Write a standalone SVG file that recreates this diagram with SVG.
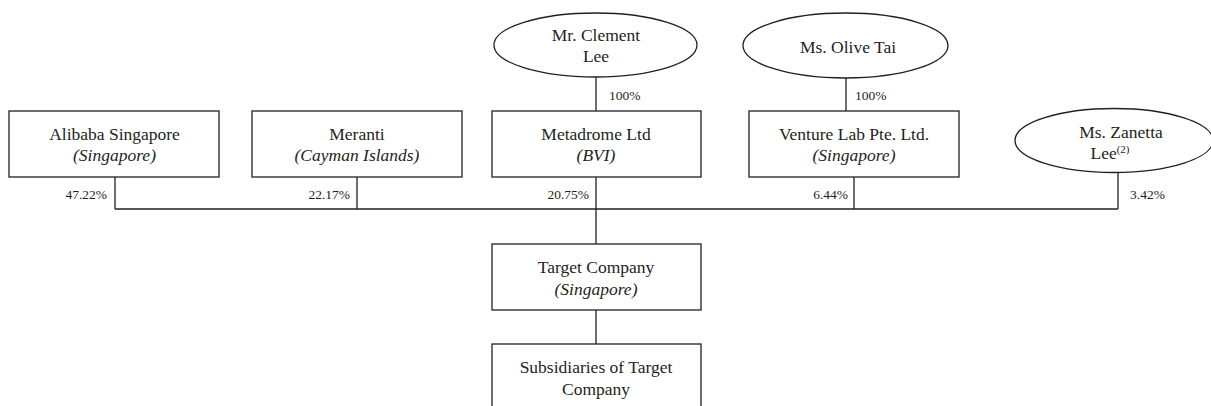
<svg xmlns="http://www.w3.org/2000/svg" width="1211" height="406" viewBox="0 0 1211 406">
<style>
.box{fill:#fff;stroke:#231f20;stroke-width:1.3}
.t{font-family:"Liberation Serif","Times New Roman",serif;font-size:17.5px;fill:#231f20;text-anchor:middle}
.i{font-style:italic}
.p{font-family:"Liberation Serif","Times New Roman",serif;font-size:13.5px;fill:#231f20}
.e{text-anchor:end}
.ln{stroke:#231f20;stroke-width:1.3;fill:none}
</style>
<rect width="1211" height="406" fill="#fff"/>
<g id="connectors">
<line class="ln" x1="596" y1="77" x2="596" y2="111"/>
<line class="ln" x1="846" y1="78" x2="846" y2="111"/>
<line class="ln" x1="115" y1="177" x2="115" y2="209"/>
<line class="ln" x1="357" y1="177" x2="357" y2="209"/>
<line class="ln" x1="596" y1="177" x2="596" y2="244"/>
<line class="ln" x1="854" y1="177" x2="854" y2="209"/>
<line class="ln" x1="1118" y1="172" x2="1118" y2="209"/>
<line class="ln" x1="115" y1="209" x2="1118" y2="209"/>
<line class="ln" x1="596" y1="310" x2="596" y2="344"/>
<text class="p" x="609" y="100">100%</text>
<text class="p" x="855" y="100">100%</text>
<text class="p e" x="107" y="199">47.22%</text>
<text class="p e" x="350" y="199">22.17%</text>
<text class="p e" x="589" y="199">20.75%</text>
<text class="p e" x="848" y="199">6.44%</text>
<text class="p" x="1130" y="199">3.42%</text>
</g>
<g id="clement">
<ellipse class="box" cx="595.5" cy="45" rx="101.5" ry="32"/>
<text class="t" x="596" y="41">Mr. Clement</text>
<text class="t" x="596" y="62">Lee</text>
</g>
<g id="olive">
<ellipse class="box" cx="845.5" cy="45.5" rx="102.5" ry="32.5"/>
<text class="t" x="848" y="53">Ms. Olive Tai</text>
</g>
<g id="alibaba">
<rect class="box" x="9" y="111" width="210" height="66"/>
<text class="t" x="114.5" y="140">Alibaba Singapore</text>
<text class="t i" x="114.5" y="161">(Singapore)</text>
</g>
<g id="meranti">
<rect class="box" x="252" y="111" width="210" height="66"/>
<text class="t" x="357" y="140">Meranti</text>
<text class="t i" x="357" y="161">(Cayman Islands)</text>
</g>
<g id="metadrome">
<rect class="box" x="492" y="111" width="209" height="66"/>
<text class="t" x="596" y="140">Metadrome Ltd</text>
<text class="t i" x="596" y="161">(BVI)</text>
</g>
<g id="venture">
<rect class="box" x="749" y="111" width="210" height="66"/>
<text class="t" x="854" y="140">Venture Lab Pte. Ltd.</text>
<text class="t i" x="854" y="161">(Singapore)</text>
</g>
<g id="zanetta">
<ellipse class="box" cx="1114" cy="140.5" rx="99" ry="32"/>
<text class="t" x="1121" y="138">Ms. Zanetta</text>
<text class="t" x="1110" y="159">Lee<tspan font-size="11" dy="-6">(2)</tspan></text>
</g>
<g id="target">
<rect class="box" x="492" y="244" width="209" height="66"/>
<text class="t" x="596" y="273">Target Company</text>
<text class="t i" x="596" y="295">(Singapore)</text>
</g>
<g id="subsidiaries">
<rect class="box" x="492" y="344" width="209" height="70"/>
<text class="t" x="596" y="373">Subsidiaries of Target</text>
<text class="t" x="596" y="395">Company</text>
</g>
</svg>
